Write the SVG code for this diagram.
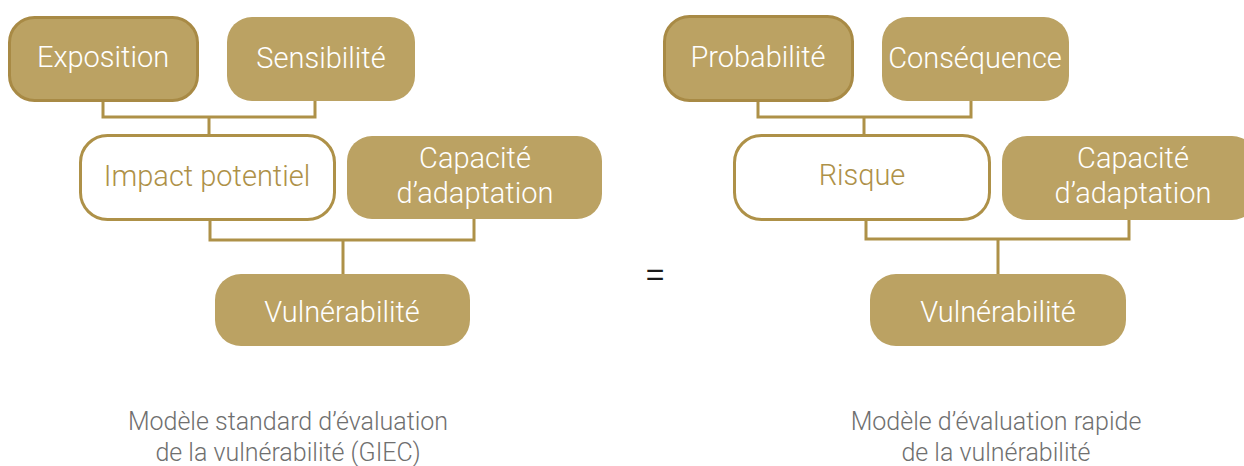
<svg xmlns="http://www.w3.org/2000/svg" width="1244" height="466" viewBox="0 0 1244 466">
<style>
.gold{fill:#bba263;}
.goldb{fill:#bba263;stroke:#a88a45;stroke-width:3;}
.white{fill:#ffffff;stroke:#ae9148;stroke-width:3;}
.lbl{font-family:"Roboto","Liberation Sans",sans-serif;font-weight:300;font-size:29px;text-anchor:middle;fill:#ffffff;}
.lblg{font-family:"Roboto","Liberation Sans",sans-serif;font-weight:300;font-size:29px;text-anchor:middle;fill:#ae9148;}
.cap{font-family:"Roboto","Liberation Sans",sans-serif;font-weight:300;font-size:25px;text-anchor:middle;fill:#6f6f6f;}
.conn{fill:none;stroke:#ae9148;stroke-width:3;}
</style>
<rect width="1244" height="466" fill="#ffffff"/>
<g id="connectors">
<path class="conn" d="M103,102 V117 H315 V101 M209,117 V135"/>
<path class="conn" d="M210,221 V240 H474 V219 M343,240 V274"/>
<path class="conn" d="M758,102 V117 H971 V101 M864,117 V135"/>
<path class="conn" d="M866,220 V239 H1129 V220 M998,239 V274"/>
</g>
<g id="exposition"><rect class="goldb" x="9.5" y="17.5" width="188" height="83" rx="25"/><text class="lbl" x="103" y="67">Exposition</text></g>
<g id="sensibilite"><rect class="gold" x="227" y="17" width="188" height="84" rx="25"/><text class="lbl" x="321" y="68">Sensibilité</text></g>
<g id="impact"><rect class="white" x="80.5" y="135.5" width="254" height="84" rx="27"/><text class="lblg" x="207" y="186">Impact potentiel</text></g>
<g id="capacite1"><rect class="gold" x="347" y="136" width="255" height="83" rx="25"/><text class="lbl" x="475" y="168">Capacité</text><text class="lbl" x="475" y="203">d’adaptation</text></g>
<g id="vulnerabilite1"><rect class="gold" x="215" y="274" width="255" height="72" rx="26"/><text class="lbl" x="342" y="322">Vulnérabilité</text></g>
<g id="egal"><text x="655" y="285" style="font-family:'Liberation Sans',sans-serif;font-size:32px;text-anchor:middle;fill:#1a1a1a;">=</text></g>
<g id="probabilite"><rect class="goldb" x="664.5" y="16.5" width="188" height="84" rx="25"/><text class="lbl" x="758" y="67">Probabilité</text></g>
<g id="consequence"><rect class="gold" x="882" y="17" width="187" height="84" rx="25"/><text class="lbl" x="975" y="68">Conséquence</text></g>
<g id="risque"><rect class="white" x="734.5" y="135.5" width="255" height="84" rx="27"/><text class="lblg" x="862" y="185">Risque</text></g>
<g id="capacite2"><rect class="gold" x="1002" y="136" width="255" height="84" rx="25"/><text class="lbl" x="1133" y="168">Capacité</text><text class="lbl" x="1133" y="203">d’adaptation</text></g>
<g id="vulnerabilite2"><rect class="gold" x="870" y="274" width="256" height="72" rx="26"/><text class="lbl" x="998" y="322">Vulnérabilité</text></g>
<g id="legende1"><text class="cap" x="288" y="430">Modèle standard d’évaluation</text><text class="cap" x="288" y="461">de la vulnérabilité (GIEC)</text></g>
<g id="legende2"><text class="cap" x="996" y="430">Modèle d’évaluation rapide</text><text class="cap" x="996" y="461">de la vulnérabilité</text></g>
</svg>
